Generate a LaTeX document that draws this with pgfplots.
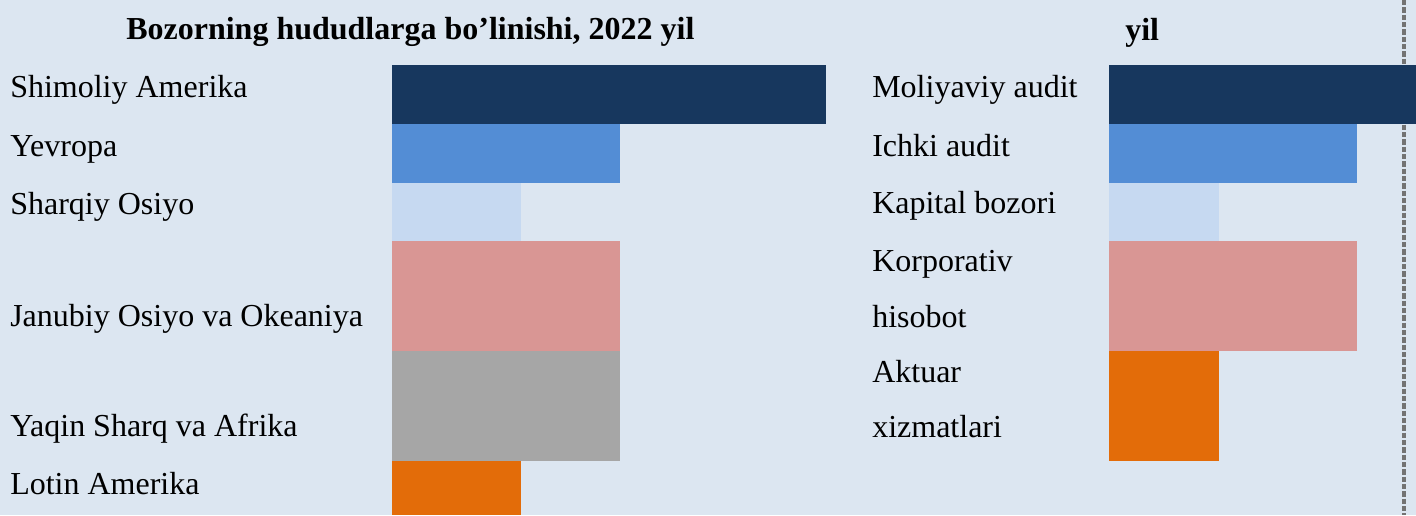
\documentclass[border=0pt]{standalone}
\usepackage{pgfplots}
\pgfplotsset{compat=1.18}
\usepackage{fontspec}
\setmainfont{Liberation Serif}
\definecolor{bg}{HTML}{DCE6F1}
\definecolor{cnavy}{HTML}{17375E}
\definecolor{cblue}{HTML}{538DD5}
\definecolor{clight}{HTML}{C6D9F1}
\definecolor{cpink}{HTML}{D99694}
\definecolor{cgray}{HTML}{A6A6A6}
\definecolor{corange}{HTML}{E36C09}
\tikzset{
  lbl/.style={anchor=base west, inner sep=0pt, font=\fontsize{24}{28}\selectfont},
  ttl/.style={anchor=base west, inner sep=0pt, font=\fontsize{24}{28}\selectfont\bfseries},
}
\begin{document}
\begin{tikzpicture}
\begin{axis}[
  scale only axis, width=1062pt, height=386.25pt,
  xmin=0, xmax=1416, ymin=0, ymax=515, y dir=reverse,
  axis lines=none, xtick=\empty, ytick=\empty, clip=false,
  axis background/.style={fill=bg},
  every axis plot/.append style={draw=none},
]
% decorative page border on the right
\draw[overlay, black!55, line width=2.6pt, dash pattern=on 4pt off 1.5pt] (axis cs:1404,0) -- (axis cs:1404,515);
% left chart: market by region (bars from x=392)
\addplot[fill=cnavy]   coordinates {(392,65) (826,65) (826,124) (392,124)};
\addplot[fill=cblue]   coordinates {(392,124) (620,124) (620,183) (392,183)};
\addplot[fill=clight]  coordinates {(392,183) (521,183) (521,241) (392,241)};
\addplot[fill=cpink]   coordinates {(392,241) (620,241) (620,351) (392,351)};
\addplot[fill=cgray]   coordinates {(392,351) (620,351) (620,461) (392,461)};
\addplot[fill=corange] coordinates {(392,461) (521,461) (521,515) (392,515)};
% right chart: services (bars from x=1109)
\addplot[fill=cnavy]   coordinates {(1109,65) (1416,65) (1416,124) (1109,124)};
\addplot[fill=cblue]   coordinates {(1109,124) (1357,124) (1357,183) (1109,183)};
\addplot[fill=clight]  coordinates {(1109,183) (1219,183) (1219,241) (1109,241)};
\addplot[fill=cpink]   coordinates {(1109,241) (1357,241) (1357,351) (1109,351)};
\addplot[fill=corange] coordinates {(1109,351) (1219,351) (1219,461) (1109,461)};
% titles
\node[ttl] at (axis cs:126,39) {Bozorning hududlarga bo’linishi, 2022 yil};
\node[ttl] at (axis cs:1125,40) {yil};
% left labels
\node[lbl] at (axis cs:10,97) {Shimoliy Amerika};
\node[lbl] at (axis cs:10,156) {Yevropa};
\node[lbl] at (axis cs:10,214) {Sharqiy Osiyo};
\node[lbl] at (axis cs:10,326) {Janubiy Osiyo va Okeaniya};
\node[lbl] at (axis cs:10,436) {Yaqin Sharq va Afrika};
\node[lbl] at (axis cs:10,494) {Lotin Amerika};
% right labels
\node[lbl] at (axis cs:872,97) {Moliyaviy audit};
\node[lbl] at (axis cs:872,156) {Ichki audit};
\node[lbl] at (axis cs:872,213) {Kapital bozori};
\node[lbl] at (axis cs:872,271) {Korporativ};
\node[lbl] at (axis cs:872,327) {hisobot};
\node[lbl] at (axis cs:872,382) {Aktuar};
\node[lbl] at (axis cs:872,437) {xizmatlari};
\end{axis}
\end{tikzpicture}
\end{document}
